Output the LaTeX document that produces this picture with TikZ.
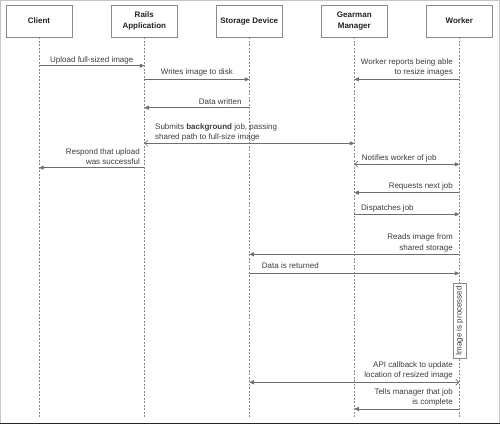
\documentclass[tikz,border=0pt]{standalone}
\usepackage{fontspec}
\setmainfont{Liberation Sans}
\usetikzlibrary{arrows.meta,calc}
\definecolor{ln}{HTML}{6E6E6E}
\definecolor{bx}{HTML}{8A8A8A}
\definecolor{tx}{HTML}{3C3C3C}
\definecolor{hd}{HTML}{222222}
\tikzset{
  fhead/.tip={Triangle[length=4.5pt,width=4pt]},
  ohead/.tip={Straight Barb[length=3pt,width=6pt,line width=0.7pt]}
}
\begin{document}
\begin{tikzpicture}[x=1pt,y=-1pt,
  actor/.style={draw=bx, line width=0.8pt, minimum width=66pt, minimum height=32pt,
    font=\bfseries\fontsize{8}{10.5}\selectfont, align=center, text=hd, inner sep=0pt},
  life/.style={draw=bx, line width=0.6pt, dash pattern=on 2pt off 1.5pt},
  msg/.style={draw=ln, line width=0.8pt},
  lbl/.style={font=\fontsize{8}{10.3}\selectfont, text=tx, inner sep=0pt},
  procbox/.style={draw=bx, fill=white, line width=0.8pt, rotate=90, minimum width=75pt,
    minimum height=12.6pt, inner sep=0pt, font=\fontsize{8}{10}\selectfont, text=tx}]
\useasboundingbox (0,0) rectangle (500,425);
\draw[draw=gray!45, line width=0.8pt] (0.5,0.5) rectangle (499.5,423.5);
\draw[draw=gray!30!black, line width=1.6pt] (0,423.6) -- (500,423.6);

% actors
\node[actor] (client) at (39,21) {Client};
\node[actor] (rails) at (144.3,21) {Rails\\Application};
\node[actor] (storage) at (249.3,21) {Storage Device};
\node[actor] (gearman) at (354.3,21) {Gearman\\Manager};
\node[actor] (worker) at (459.3,21) {Worker};

% lifeline ends
\coordinate (clientE) at (39,417);
\coordinate (railsE) at (144.3,417);
\coordinate (storageE) at (249.3,417);
\coordinate (gearmanE) at (354.3,417);
\coordinate (workerE) at (459.3,417);

\draw[life] (client.south) -- (clientE);
\draw[life] (rails.south) -- (railsE);
\draw[life] (storage.south) -- (storageE);
\draw[life] (gearman.south) -- (gearmanE);
\draw[life] (worker.south) -- (workerE);

% messages
\draw[msg,-{fhead}] (client |- 0,65.7) -- (rails |- 0,65.7);
\node[lbl, anchor=west] (l1) at (50,60) {Upload full-sized image};

\draw[msg,-{fhead}] (rails |- 0,79.3) -- (storage |- 0,79.3);
\node[lbl, anchor=west] (l2) at (160.7,72.5) {Writes image to disk};

\draw[msg,-{fhead}] (worker |- 0,79.3) -- (gearman |- 0,79.3);
\node[lbl, anchor=east, align=right] (l3) at (453,67.5) {Worker reports being able\\to resize images};

\draw[msg,-{fhead}] (storage |- 0,107.7) -- (rails |- 0,107.7);
\node[lbl, anchor=east] (l4) at (241.7,101.8) {Data written};

\draw[msg,{ohead}-{fhead}] (rails |- 0,143.3) -- (gearman |- 0,143.3);
\node[lbl, anchor=west, align=left] (l5) at (155,132.5) {Submits \textbf{background} job, passing\\shared path to full-size image};

\draw[msg,-{fhead}] (rails |- 0,167.7) -- (client |- 0,167.7);
\node[lbl, anchor=east, align=right] (l6) at (140,156.7) {Respond that upload\\was successful};

\draw[msg,{ohead}-{fhead}] (gearman |- 0,164.3) -- (worker |- 0,164.3);
\node[lbl, anchor=west] (l7) at (361.7,158.8) {Notifies worker of job};

\draw[msg,-{fhead}] (worker |- 0,192.7) -- (gearman |- 0,192.7);
\node[lbl, anchor=east] (l8) at (453,186.7) {Requests next job};

\draw[msg,-{fhead}] (gearman |- 0,214.3) -- (worker |- 0,214.3);
\node[lbl, anchor=west] (l9) at (361,208.7) {Dispatches job};

\draw[msg,-{fhead}] (worker |- 0,254.3) -- (storage |- 0,254.3);
\node[lbl, anchor=east, align=right] (l10) at (453,243) {Reads image from\\shared storage};

\draw[msg,-{fhead}] (storage |- 0,273.3) -- (worker |- 0,273.3);
\node[lbl, anchor=west] (l11) at (261.7,266) {Data is returned};

\node[procbox] (proc) at (459.6,320.8) {Image is processed};

\draw[msg,{fhead}-{ohead}] (storage |- 0,382.3) -- (worker |- 0,382.3);
\node[lbl, anchor=east, align=right] (l12) at (453,370.5) {API callback to update\\location of resized image};

\draw[msg,-{fhead}] (worker |- 0,409) -- (gearman |- 0,409);
\node[lbl, anchor=east, align=right] (l13) at (453,397.7) {Tells manager that job\\is complete};
\end{tikzpicture}
\end{document}
